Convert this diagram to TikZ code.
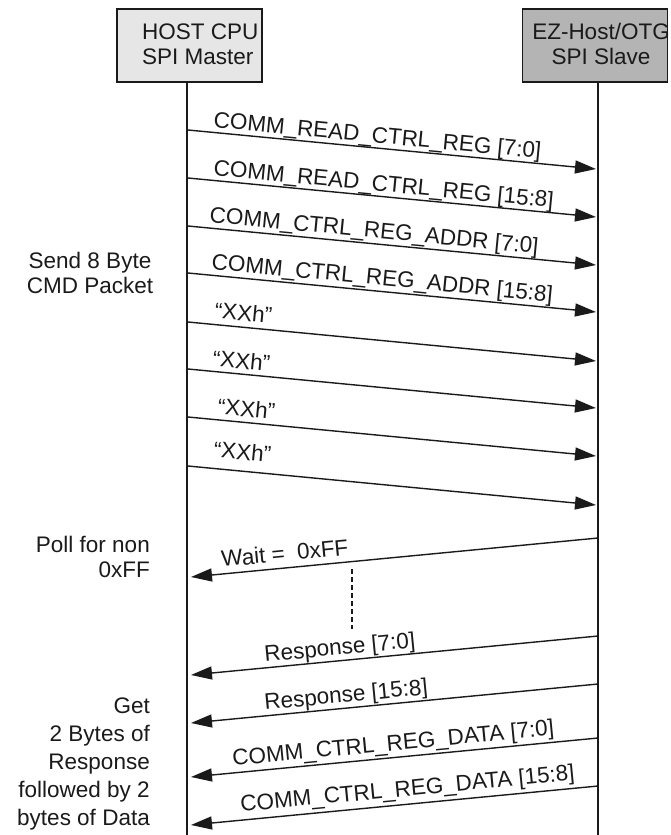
\documentclass[tikz,border=0pt]{standalone}
\usepackage{fontspec}
\setmainfont{Liberation Sans}
\usetikzlibrary{arrows.meta}
\definecolor{boxlight}{HTML}{E6E6E6}
\definecolor{boxdark}{HTML}{B4B4B4}
\definecolor{ink}{HTML}{1A1A1A}
\begin{document}
\begin{tikzpicture}[x=1pt,y=-1pt,
  every node/.style={font=\fontsize{22.5}{25}\selectfont, text=ink},
  partbox/.style={draw=ink, line width=1.4pt, minimum width=145pt, minimum height=73pt, inner sep=0pt},
  lifeline/.style={draw=ink, line width=1.3pt},
  msg/.style={draw=ink, line width=1.4pt, -{Triangle[length=21pt,width=13pt]}},
  lblR/.style={anchor=base west, inner sep=0pt, rotate=-5.5},
  lblL/.style={anchor=base west, inner sep=0pt, rotate=5.5},
  side/.style={inner sep=0pt, font=\fontsize{22.5}{25}\selectfont}
]
\useasboundingbox (0,0) rectangle (671,835);

% participant boxes
\node[partbox, fill=boxlight] (host) at (189.5,45.5) {};
\node[partbox, fill=boxdark] (slave) at (595,45.5) {};
\node[anchor=base west, inner sep=0pt, align=left] (hosttxt) at (142,64) {HOST CPU\\SPI Master};
\node[anchor=base, inner sep=0pt, align=center] (slavetxt) at (601,64) {EZ-Host/OTG\\SPI Slave};

% lifelines
\coordinate (hostend) at (187,835);
\coordinate (slaveend) at (598,835);
\draw[lifeline] (host.south -| hostend) -- (hostend);
\draw[lifeline] (slave.south -| slaveend) -- (slaveend);

% host -> slave messages
\foreach \i/\y in {1/130,2/178,3/226,4/273,5/322,6/369,7/417,8/466}{
  \coordinate (s\i) at (188,\y);
  \coordinate (e\i) at (596,\y+39);
  \draw[msg] (s\i) -- (e\i);
}
\node[lblR] (l1) at (213,127) {COMM\_READ\_CTRL\_REG [7:0]};
\node[lblR] (l2) at (213,175) {COMM\_READ\_CTRL\_REG [15:8]};
\node[lblR] (l3) at (209,222) {COMM\_CTRL\_REG\_ADDR [7:0]};
\node[lblR] (l4) at (211,269) {COMM\_CTRL\_REG\_ADDR [15:8]};
\node[lblR] (l5) at (214,318) {“XXh”};
\node[lblR] (l6) at (212,366) {“XXh”};
\node[lblR] (l7) at (217,414) {“XXh”};
\node[lblR] (l8) at (213,457) {“XXh”};

% slave -> host messages
\foreach \i/\y in {1/538,2/636,3/684,4/738,5/786}{
  \coordinate (r\i) at (598,\y);
  \coordinate (h\i) at (191,\y+39);
  \draw[msg] (r\i) -- (h\i);
}
\node[lblL] (w1) at (222,567) {Wait =\ \ 0xFF};
\node[lblL] (w2) at (265,662) {Response [7:0]};
\node[lblL] (w3) at (265,710) {Response [15:8]};
\node[lblL] (w4) at (233,766) {COMM\_CTRL\_REG\_DATA [7:0]};
\node[lblL] (w5) at (241,812) {COMM\_CTRL\_REG\_DATA [15:8]};

% wait continuation
\coordinate (dtop) at (352,569);
\coordinate (dbot) at (352,629);
\draw[draw=ink, line width=1.3pt, dash pattern=on 5pt off 3pt] (dtop) -- (dbot);

% side notes
\node[side, anchor=base, align=center] (send) at (90,293) {Send 8 Byte\\CMD Packet};
\node[side, anchor=base east, align=right] (poll) at (150,577) {Poll for non\\0xFF};
\node[side, anchor=base east, align=right, font=\fontsize{22.5}{28}\selectfont] (get) at (150,825) {Get\\2 Bytes of\\Response\\followed by 2\\bytes of Data};
\end{tikzpicture}
\end{document}
